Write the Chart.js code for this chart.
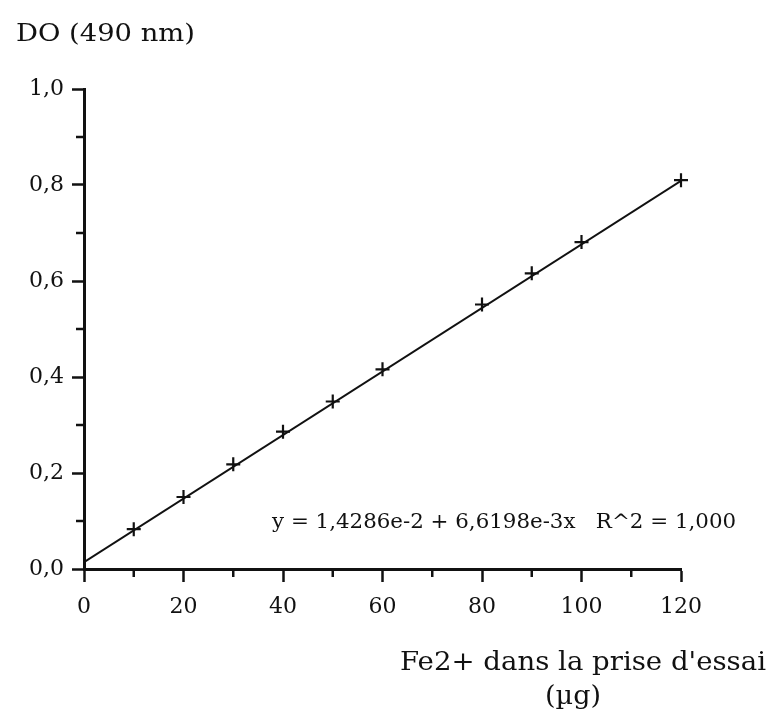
<!DOCTYPE html>
<html>
<head>
<meta charset="utf-8">
<script src="https://cdn.jsdelivr.net/npm/chart.js@4.4.1/dist/chart.umd.min.js"></script>
<style>
  html, body { margin: 0; padding: 0; background: #fff; }
  #wrap { width: 774px; height: 713px; position: relative; }
</style>
</head>
<body>
<div id="wrap"><canvas id="chart-1"></canvas></div>
<script>
// Fe2+ (µg) vs optical density at 490 nm
const fe = [10, 20, 30, 40, 50, 60, 80, 90, 100, 120];
const od = [0.083, 0.150, 0.218, 0.286, 0.349, 0.416, 0.551, 0.616, 0.681, 0.810];

// regression line end points (from the printed equation)
const fitX = [0, 120];
const fitY = [0.0143, 0.8087];

const yTitle = 'DO (490 nm)';
const xTitle = ["Fe2+ dans la prise d'essai", '(µg)'];
const eqText = 'y = 1,4286e-2 + 6,6198e-3x   R^2 = 1,000';
const eqPos = [37.8, 0.085];

const FONT = '"DejaVu Serif", serif';

// text squeezed / stretched to the width it has in the picture
function drawFit(ctx, text, x, y, size, width) {
    ctx.font = size + 'px ' + FONT;
    const w = ctx.measureText(text).width;
    ctx.save();
    ctx.translate(x, y);
    ctx.scale(width / w, 1);
    ctx.fillText(text, 0, 0);
    ctx.restore();
}

// minor ticks are drawn shorter than the major ones, plus the texts
const extras = {
    id: 'extras',
    afterDraw(chart) {
        const ctx = chart.ctx;
        const xs = chart.scales.x, ys = chart.scales.y;
        ctx.save();
        ctx.strokeStyle = '#111';
        ctx.lineWidth = 2.5;
        xs.ticks.forEach((t, i) => {
            if (i % 2 === 1) {
                const px = xs.getPixelForValue(t.value);
                ctx.beginPath();
                ctx.moveTo(px, ys.bottom);
                ctx.lineTo(px, ys.bottom + 8);
                ctx.stroke();
            }
        });
        ys.ticks.forEach((t, i) => {
            if (i % 2 === 1) {
                const py = ys.getPixelForValue(t.value);
                ctx.beginPath();
                ctx.moveTo(xs.left, py);
                ctx.lineTo(xs.left - 8, py);
                ctx.stroke();
            }
        });

        ctx.fillStyle = '#111';
        ctx.textBaseline = 'alphabetic';
        ctx.textAlign = 'left';
        drawFit(ctx, yTitle, 16, 41, 25, 179);
        drawFit(ctx, xTitle[0], 400, 670, 26, 366);
        drawFit(ctx, xTitle[1], 545, 704, 26, 56);
        drawFit(ctx, eqText, xs.getPixelForValue(eqPos[0]), ys.getPixelForValue(eqPos[1]), 21, 464);
        ctx.restore();
    }
};

const ctx = document.getElementById('chart-1').getContext('2d');
const chart_1 = new Chart(ctx, {
    type: 'scatter',
    data: {
        datasets: [
            {
                label: 'fit',
                data: fitX.map((x, i) => ({ x: x, y: fitY[i] })),
                showLine: true,
                borderColor: '#111',
                borderWidth: 2,
                pointRadius: 0
            },
            {
                label: 'DO',
                data: fe.map((x, i) => ({ x: x, y: od[i] })),
                pointStyle: 'cross',
                pointRadius: 7,
                pointBorderWidth: 2.2,
                pointBorderColor: '#111',
                borderColor: '#111',
                clip: false
            }
        ]
    },
    plugins: [extras],
    options: {
        responsive: true,
        maintainAspectRatio: false,
        animation: false,
        layout: {
            padding: { left: 0, top: 89, right: 93, bottom: 0 }
        },
        plugins: {
            legend: { display: false },
            tooltip: { enabled: false }
        },
        scales: {
            x: {
                type: 'linear',
                min: 0,
                max: 120,
                afterFit: (s) => { s.height = 144; },
                border: { color: '#111', width: 3 },
                grid: {
                    drawOnChartArea: false,
                    tickLength: 13,
                    tickWidth: 2.5,
                    tickColor: (c) => (c.index % 2 === 0 ? '#111' : 'rgba(0,0,0,0)')
                },
                ticks: {
                    stepSize: 10,
                    autoSkip: false,
                    maxRotation: 0,
                    padding: 12,
                    color: '#111',
                    font: { family: FONT, size: 22 },
                    callback: (v) => (v % 20 === 0 ? String(v) : '')
                }
            },
            y: {
                type: 'linear',
                min: 0,
                max: 1,
                afterFit: (s) => { s.width = 84; },
                border: { color: '#111', width: 3 },
                grid: {
                    drawOnChartArea: false,
                    tickLength: 12,
                    tickWidth: 2.5,
                    tickColor: (c) => (c.index % 2 === 0 ? '#111' : 'rgba(0,0,0,0)')
                },
                ticks: {
                    stepSize: 0.1,
                    autoSkip: false,
                    padding: 8,
                    color: '#111',
                    font: { family: FONT, size: 22 },
                    callback: (v, i) => (i % 2 === 0 ? v.toFixed(1).replace('.', ',') : '')
                }
            }
        }
    }
});
</script>
</body>
</html>
